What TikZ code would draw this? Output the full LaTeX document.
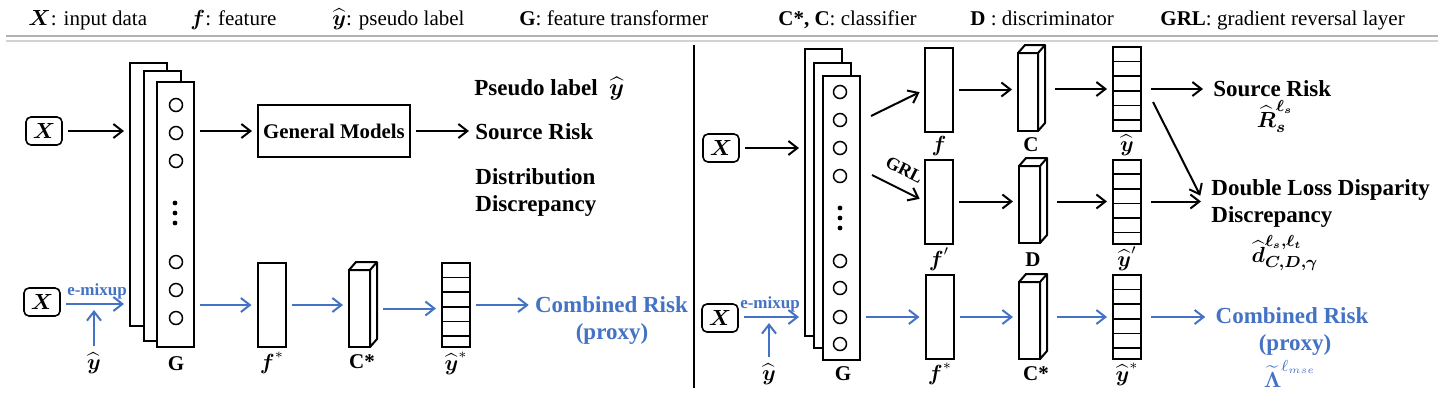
\documentclass[tikz,border=0pt]{standalone}
\usepackage{amsmath}
\usepackage{fontspec}
\setmainfont{Liberation Serif}
\usetikzlibrary{positioning, arrows.meta}

\definecolor{mixblue}{RGB}{68,114,196}

% top and side faces of a block (front face is the node)
\newcommand{\blockfaces}[1]{%
  \draw[line width=1pt, line join=round, fill=white]
    (#1.north west) -- ++(3.5pt,4pt) -- ([shift={(3.5pt,4pt)}]#1.north east)
    -- ([shift={(3.5pt,4pt)}]#1.south east) -- (#1.south east)
    -- (#1.north east) -- cycle;
  \draw[line width=1pt] (#1.north east) -- ++(3.5pt,4pt);}

% stripes of an output vector
\newcommand{\vecstripes}[1]{%
  \foreach \k in {1,...,5}
    \draw[line width=0.8pt] ([yshift=-\k*7.3pt]#1.north west) -- ([yshift=-\k*7.3pt]#1.north east);}

\begin{document}
\begin{tikzpicture}[x=0.5pt, y=-0.5pt,
  arr/.style={-{Straight Barb[length=4.5pt,width=7pt]}, line width=1pt, shorten >=3pt, shorten <=3pt},
  mix/.style={arr, mixblue},
  xbox/.style={draw, rounded corners=2.5pt, line width=0.8pt, minimum width=18pt, minimum height=14pt, inner sep=0pt, outer sep=0pt, font=\fontsize{11}{12}\selectfont},
  layer/.style={draw, fill=white, line width=1pt, minimum width=18.5pt, inner sep=0pt, outer sep=0pt},
  feat/.style={draw, line width=1pt, minimum width=14pt, minimum height=42pt, inner sep=0pt, outer sep=0pt},
  block/.style={draw, line width=1pt, minimum width=10.5pt, minimum height=38.5pt, inner sep=0pt, outer sep=0pt},
  neuron/.style={circle, draw, line width=0.75pt, minimum size=6.5pt, inner sep=0pt},
  dotn/.style={circle, fill, minimum size=2.4pt, inner sep=0pt},
  lbl/.style={anchor=base, inner sep=0pt, font=\bfseries\fontsize{10.5}{12}\selectfont},
  risk/.style={anchor=base west, inner sep=0pt, font=\bfseries\fontsize{11.5}{13}\selectfont},
  hdr/.style={anchor=base west, inner sep=0pt, font=\fontsize{10.5}{12}\selectfont},
]
\useasboundingbox (0,0) rectangle (1450,409);

% Legend
\node[hdr] (h1) at (28,25) {$\boldsymbol{X}$: input data};
\node[hdr] (h2) at (190,25) {$\boldsymbol{f}$: feature};
\node[hdr] (h3) at (332,25) {$\widehat{\boldsymbol{y}}$: pseudo label};
\node[hdr] (h4) at (519,25) {\textbf{G}: feature transformer};
\node[hdr] (h5) at (778,25) {\textbf{C*, C}: classifier};
\node[hdr] (h6) at (970,25) {\textbf{D} : discriminator};
\node[hdr] (h7) at (1160,25) {\textbf{GRL}: gradient reversal layer};
\draw[gray!60, line width=1pt] (6,36) -- (1438,36);
\draw[gray!35, line width=1pt] (6,41) -- (1438,41);
\draw[line width=1pt] (694,45) -- (694,388);

% ---------------- left panel ----------------
\node[xbox] (xa) at (44,131) {$\boldsymbol{X}$};
\node[xbox] (xb) at (42,302) {$\boldsymbol{X}$};

% feature transformer G
\node[layer, minimum height=131.5pt] (gLb) at (148.5,194.5) {};
\node[layer, minimum height=135pt] (gLm) at (162,206) {};
\node[layer, minimum height=132.5pt] (gLf) at (175.5,214.5) {};
\foreach \y in {105,133,161,262,290,318}
  \node[neuron] (nL\y) at (176,\y) {};
\foreach \y in {203,213,223}
  \node[dotn] (dL\y) at (175,\y) {};
\node[lbl] (gLl) at (176,370) {G};

\node[draw, line width=1pt, minimum width=76pt, minimum height=26pt, inner sep=0pt, outer sep=0pt,
  font=\bfseries\fontsize{10.4}{12}\selectfont] (gm) at (334,131) {General Models};

\node[risk] (pseu) at (474,95) {Pseudo label \ $\widehat{\boldsymbol{y}}$};
\node[risk] (srcL) at (475,139) {Source Risk};
\node[risk] (distL) at (475,184) {Distribution};
\node[risk] (discL) at (475,211) {Discrepancy};

\draw[arr] (xa.east) -- (xa.east -| gLb.west);
\draw[arr] (gm.west -| gLf.east) -- (gm.west);
\draw[arr] (gm.east) -- (gm.east -| srcL.west);

% e-mixup branch
\node[feat] (fsL) at (271.5,305) {};
\node[block] (csL) at (359.5,308.5) {};
\blockfaces{csL}
\node[feat] (vsL) at (456,305) {};
\vecstripes{vsL}
\node[lbl] (fsLl) at (272,369) {$\boldsymbol{f}^{*}$};
\node[lbl] (csLl) at (362,368) {C*};
\node[lbl] (vsLl) at (456,370) {$\widehat{\boldsymbol{y}}^{*}$};
\node[lbl] (yL) at (94,369) {$\widehat{\boldsymbol{y}}$};
\node[lbl, text=mixblue, font=\bfseries\fontsize{8.5}{10}\selectfont] (emixL) at (97,295) {e-mixup};
\node[risk, anchor=base, text=mixblue] (cmbL) at (611.5,312) {Combined Risk};
\node[risk, anchor=base, text=mixblue] (prxL) at (612,339) {(proxy)};

\coordinate (mixL) at (94,304);
\draw[mix] (xb.east |- mixL) -- (mixL -| gLb.west);
\draw[mix] (yL.north) -- (mixL);
\draw[mix] (fsL.west -| gLf.east) -- (fsL.west);
\draw[mix] (fsL.east) -- (fsL.east -| csL.west);
\draw[mix, shorten <=6.5pt] (csL.east) -- (csL.east -| vsL.west);
\draw[mix] (vsL.east) -- (vsL.east -| cmbL.west);

% ---------------- right panel ----------------
\node[xbox] (xc) at (721,148) {$\boldsymbol{X}$};
\node[xbox] (xd) at (720,318) {$\boldsymbol{X}$};

\node[layer, minimum height=143.5pt] (gRb) at (823.5,192.5) {};
\node[layer, minimum height=142.5pt] (gRm) at (832.5,205.5) {};
\node[layer, minimum height=142pt] (gRf) at (841.5,218) {};
\foreach \y in {92,120,148,176,261,288,317,344}
  \node[neuron] (nR\y) at (840,\y) {};
\foreach \y in {208,218,228}
  \node[dotn] (dR\y) at (840,\y) {};
\node[lbl] (gRl) at (843,380) {G};

% features
\node[feat] (fR) at (939,89.5) {};
\node[feat] (fpR) at (939,201.5) {};
\node[feat] (fsR) at (939.5,317) {};
\node[lbl] (fRl) at (939,151) {$\boldsymbol{f}$};
\node[lbl] (fpRl) at (939,266) {$\boldsymbol{f}'$};
\node[lbl] (fsRl) at (940,380) {$\boldsymbol{f}^{*}$};

% classifier, discriminator
\node[block, minimum width=10pt, minimum height=39pt] (cR) at (1028,92) {};
\node[block] (dR) at (1029.5,204.5) {};
\node[block] (csR) at (1029.5,320.5) {};
\blockfaces{cR}
\blockfaces{dR}
\blockfaces{csR}
\node[lbl] (cRl) at (1031,151) {C};
\node[lbl] (dRl) at (1033,266) {D};
\node[lbl] (csRl) at (1036,380) {C*};

% outputs
\node[feat] (vR) at (1127,89) {};
\node[feat] (vpR) at (1127,201.5) {};
\node[feat] (vsR) at (1127,317) {};
\vecstripes{vR}
\vecstripes{vpR}
\vecstripes{vsR}
\node[lbl] (vRl) at (1127,151) {$\widehat{\boldsymbol{y}}$};
\node[lbl] (vpRl) at (1127,266) {$\widehat{\boldsymbol{y}}'$};
\node[lbl] (vsRl) at (1127,381) {$\widehat{\boldsymbol{y}}^{*}$};

% risks
\node[risk] (srcR) at (1213,96) {Source Risk};
\node[lbl, font=\fontsize{11}{12}\selectfont] (rsR) at (1275,127) {$\widehat{\boldsymbol{R}}_{\boldsymbol{s}}^{\boldsymbol{\ell_s}}$};
\node[risk] (dblR) at (1211,195) {Double Loss Disparity};
\node[risk] (discR) at (1211,222) {Discrepancy};
\node[lbl, font=\fontsize{11}{12}\selectfont] (dhR) at (1285,262) {$\widehat{\boldsymbol{d}}^{\boldsymbol{\ell_s,\ell_t}}_{\boldsymbol{C,D,\gamma}}$};
\node[risk, anchor=base, text=mixblue] (cmbR) at (1292,323) {Combined Risk};
\node[risk, anchor=base, text=mixblue] (prxR) at (1295,350) {(proxy)};
\node[lbl, text=mixblue, font=\fontsize{11}{12}\selectfont] (lamR) at (1290,387) {$\widetilde{\boldsymbol{\Lambda}}^{\ell_{mse}}$};

\node[lbl, text=mixblue, font=\bfseries\fontsize{8.5}{10}\selectfont] (emixR) at (770,308) {e-mixup};
\node[lbl] (yR) at (769,380) {$\widehat{\boldsymbol{y}}$};

\coordinate (gup) at (871,116);
\coordinate (gdown) at (872,175);
\coordinate (mixR) at (769,317);

\draw[arr] (xc.east) -- (xc.east -| gRb.west);
\draw[arr, shorten <=0pt] (gup) -- (fR.west);
\draw[arr, shorten <=0pt] (gdown) -- (fpR.west)
  node[pos=0.45, above=6pt, sloped, inner sep=0pt, font=\bfseries\fontsize{9}{10}\selectfont] (grl) {GRL};
\draw[arr] (fR.east) -- (fR.east -| cR.west);
\draw[arr] (fpR.east) -- (fpR.east -| dR.west);
\draw[arr, shorten <=8.5pt] (cR.east |- vR.east) -- (vR.west);
\draw[arr, shorten <=8.5pt] (dR.east |- vpR.east) -- (vpR.west);
\draw[arr, shorten <=5pt, shorten >=5pt] (vR.east) -- (vR.east -| srcR.west);
\draw[arr, shorten <=5pt, shorten >=5pt] (vpR.east) -- (vpR.east -| dblR.west);
\draw[arr, shorten <=0pt] ([xshift=6pt,yshift=-6.5pt]vR.east) -- ([xshift=-4pt,yshift=-3pt]dblR.base west);

\draw[mix] (xd.east |- mixR) -- (mixR -| gRb.west);
\draw[mix] (yR.north) -- (mixR);
\draw[mix] (fsR.west -| gRf.east) -- (fsR.west);
\draw[mix] (fsR.east) -- (fsR.east -| csR.west);
\draw[mix, shorten <=8.5pt] (csR.east |- vsR.east) -- (vsR.west);
\draw[mix, shorten <=5pt, shorten >=5pt] (vsR.east) -- (vsR.east -| cmbR.west);

\end{tikzpicture}
\end{document}
